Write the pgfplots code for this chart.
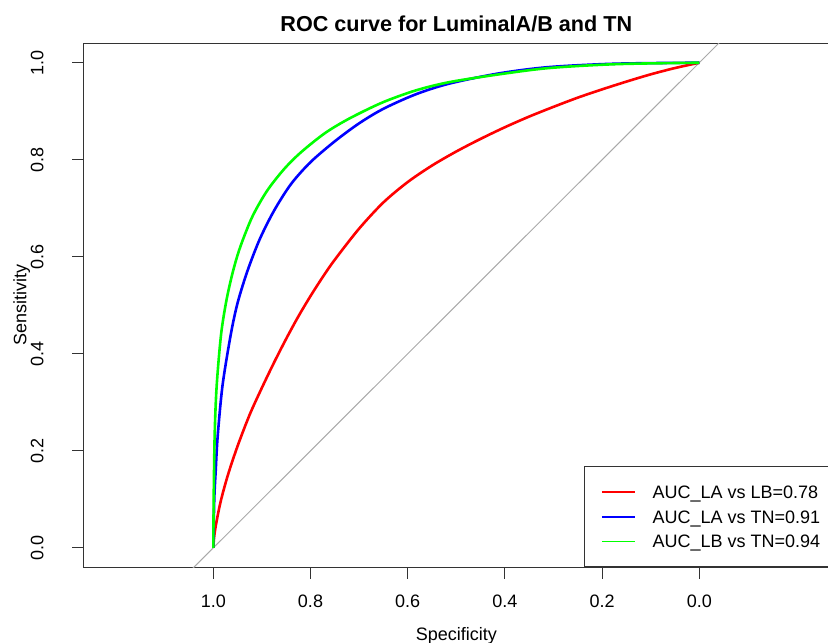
\documentclass[border=0pt]{standalone}
\usepackage{fontspec}
\setmainfont{Liberation Sans}
\usepackage{pgfplots}
\pgfplotsset{compat=1.18}
\definecolor{rred}{HTML}{FF0000}
\definecolor{rblue}{HTML}{0000FF}
\definecolor{rgreen}{HTML}{00FF00}
\definecolor{dgrey}{HTML}{A9A9A9}
\newcommand{\fs}{\fontsize{18}{21.6}\selectfont}
\begin{document}
\begin{tikzpicture}
\begin{axis}[
  at={(83.7pt,75.7pt)}, anchor=south west,
  scale only axis, width=745.2pt, height=524pt,
  x dir=reverse,
  xmin=-0.2667, xmax=1.2667, ymin=-0.04, ymax=1.04,
  xtick={0,0.2,0.4,0.6,0.8,1}, ytick={0,0.2,0.4,0.6,0.8,1},
  /pgf/number format/fixed, /pgf/number format/fixed zerofill,
  /pgf/number format/precision=1, /pgf/number format/assume math mode=true,
  tick align=outside, major tick length=11.5pt,
  xtick pos=left, ytick pos=left,
  tick style={black!80, line width=1.1pt},
  axis line style={black!80, line width=1.1pt},
  xticklabel style={font=\fs, anchor=north, inner sep=0pt},
  xticklabel shift=15.5pt,
  yticklabel style={font=\fs, rotate=90, anchor=base, inner sep=0pt},
  yticklabel shift=28.9pt,
  xlabel={Specificity},
  xlabel style={font=\fs, at={(axis description cs:0.5,-0.1391)}, anchor=base, inner sep=0pt},
  ylabel={Sensitivity},
  ylabel style={font=\fs, at={(axis description cs:-0.0768,0.5)}, anchor=base, inner sep=0pt},
  title={ROC curve for LuminalA/B and TN},
  title style={font=\fontsize{21.6}{26}\selectfont\bfseries, at={(axis description cs:0.5,1.011)}, anchor=base, inner sep=0pt},
  legend cell align=left,
  legend style={at={(axis description cs:0.6717,0)}, anchor=south west,
    draw=black!80, line width=1pt, inner xsep=16.4pt, inner ysep=18.8pt,
    row sep=11.8pt, column sep=16.7pt, font=\fs,
    nodes={inner sep=0pt, text height=12.9pt, text depth=0pt}},
  legend image code/.code={\draw[#1, line width=1.5pt] (0pt,0pt) -- (33.3pt,0pt);},
  legend entries={AUC\_LA vs LB=0.78\hspace*{25pt},
                  AUC\_LA vs TN=0.91\hspace*{25pt},
                  AUC\_LB vs TN=0.94\hspace*{25pt}},
]
% reference diagonal (not in legend)
\addplot[dgrey, line width=1pt, forget plot] coordinates {(1.1,-0.1) (-0.1,1.1)};
% red: specificity, sensitivity
\addplot[rred, line width=2.6pt, smooth, tension=0.5] coordinates {
(1.000,0.000) (0.9985,0.020) (0.995,0.045) (0.985,0.095) (0.970,0.150)
(0.950,0.210) (0.925,0.275) (0.900,0.330) (0.875,0.382) (0.850,0.431)
(0.825,0.477) (0.800,0.519) (0.775,0.558) (0.750,0.594) (0.700,0.658)
(0.650,0.712) (0.600,0.754) (0.550,0.788) (0.500,0.817) (0.450,0.843)
(0.400,0.867) (0.350,0.889) (0.300,0.909) (0.250,0.928) (0.200,0.945)
(0.150,0.961) (0.100,0.976) (0.050,0.989) (0.000,1.000)};
\addplot[rblue, line width=2.6pt, smooth, tension=0.5] coordinates {
(1.000,0.000) (0.998,0.100) (0.995,0.160) (0.991,0.230) (0.981,0.335)
(0.964,0.440) (0.950,0.505) (0.930,0.570) (0.905,0.635) (0.875,0.695)
(0.840,0.750) (0.800,0.795) (0.750,0.838) (0.700,0.875) (0.650,0.905)
(0.583,0.935) (0.514,0.957) (0.412,0.978) (0.309,0.991) (0.171,0.998)
(0.000,1.000)};
\addplot[rgreen, line width=2.6pt, smooth, tension=0.5] coordinates {
(1.000,0.000) (0.999,0.120) (0.997,0.240) (0.993,0.335) (0.984,0.440)
(0.973,0.510) (0.960,0.568) (0.945,0.619) (0.920,0.682) (0.890,0.735)
(0.855,0.780) (0.820,0.815) (0.770,0.855) (0.720,0.885) (0.652,0.918)
(0.583,0.943) (0.514,0.960) (0.412,0.976) (0.309,0.989) (0.171,0.997)
(0.000,1.000)};
\end{axis}
\pgfresetboundingbox
\useasboundingbox (0,0) rectangle (828pt,643pt);
\end{tikzpicture}
\end{document}
